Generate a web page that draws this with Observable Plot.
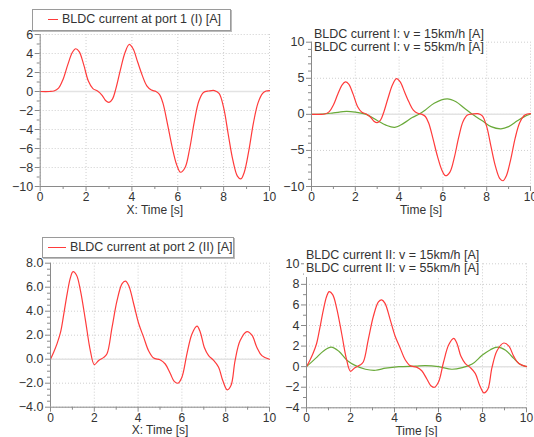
<!DOCTYPE html>
<html>
<head>
<meta charset="utf-8">
<script src="https://cdn.jsdelivr.net/npm/d3@7"></script>
<script src="https://cdn.jsdelivr.net/npm/@observablehq/plot@0.6"></script>
<style>
  html, body { margin: 0; padding: 0; background: white; }
  #wrap { position: relative; width: 534px; height: 437px; overflow: hidden; background: white;
          font-family: "Liberation Sans", Arial, sans-serif; color: #333; }
  #wrap svg { position: absolute; left: 0; top: 0; }
  .legbox { position: absolute; border: 1px solid #9a9a9a; box-shadow: 1px 1px 0 #bbb; background: white;
            font-size: 12.5px; line-height: 18px; white-space: nowrap; }
  .legbox .sw { display: inline-block; vertical-align: middle; height: 0; border-top: 1px solid #ff3b3b; }
  .legtxt { position: absolute; background: white; font-size: 12.5px; line-height: 13px; white-space: nowrap; color: #333; }
</style>
</head>
<body>
<div id="wrap"></div>
<script>
// ---- data ----
const timeI15 = [0,0.4,0.6,0.8,1.0,1.2,1.4,1.55,1.7,1.9,2.1,2.3,2.5,2.7,2.85,3.0,3.15,3.3,3.5,3.7,3.88,4.05,4.25,4.45,4.65,4.85,5.05,5.2,5.35,5.55,5.75,5.95,6.12,6.32,6.52,6.72,6.92,7.12,7.35,7.6,7.8,8.0,8.2,8.4,8.6,8.75,8.9,9.1,9.3,9.5,9.7,9.85,10];
const currentI15 = [0,0,0.05,0.35,1.3,2.8,4.1,4.5,4.2,2.8,1.1,0.3,0.05,-0.4,-0.95,-1.15,-0.8,0.3,2.3,4.1,4.95,4.5,3.1,1.7,0.6,0.15,0.0,-0.3,-1.2,-3.4,-5.8,-7.7,-8.5,-8.0,-6.0,-3.2,-1.0,-0.1,0.05,0.1,-0.2,-1.7,-4.5,-7.2,-8.9,-9.2,-8.5,-6.2,-3.3,-1.2,-0.2,0.05,0.1];
const timeI55 = [0,0.5,1.0,1.6,2.0,2.5,3.0,3.4,3.8,4.2,4.6,4.9,5.2,5.6,6.2,6.6,7.0,7.4,7.8,8.2,8.65,9.0,9.4,9.7,10];
const currentI55 = [0,0.05,0.2,0.4,0.3,0,-0.85,-1.5,-1.8,-1.25,-0.45,0,0.6,1.55,2.15,1.75,0.8,-0.1,-0.9,-1.7,-2.0,-1.7,-0.9,-0.35,0.05];
const timeII15 = [0,0.15,0.3,0.46,0.61,0.76,0.91,1.03,1.19,1.37,1.6,1.82,2.0,2.2,2.43,2.58,2.81,3.04,3.27,3.42,3.57,3.8,4.03,4.26,4.48,4.71,5.0,5.24,5.47,5.65,5.82,6.0,6.23,6.46,6.69,6.84,7.02,7.22,7.45,7.67,7.87,8.07,8.24,8.43,8.66,8.97,9.2,9.42,9.65,10];
const currentII15 = [0,0.6,1.3,2.25,3.8,5.45,6.8,7.3,7.0,5.7,3.2,0.7,-0.45,-0.1,0.15,0.45,2.65,4.9,6.3,6.5,6.15,4.6,2.95,1.8,0.7,0.1,-0.05,-0.4,-1.2,-1.85,-2.0,-1.5,0.45,2.1,2.75,2.25,1.0,0.3,-0.1,-0.65,-1.8,-2.55,-2.2,-0.1,1.55,2.3,2.0,1.0,0.3,0];
const timeII55 = [0,0.41,0.79,1.12,1.47,1.85,2.23,2.68,3.14,3.6,4.2,4.95,5.4,6.0,6.6,7.08,7.53,7.98,8.36,8.67,9.05,9.42,9.73,10];
const currentII55 = [0,0.8,1.55,1.9,1.5,0.6,0.1,-0.25,-0.35,-0.15,0,0.05,0.1,0,-0.25,-0.1,0.25,1.1,1.65,1.9,1.6,0.8,0.2,0];

const xMajor = [0,2,4,6,8,10];
const xMinor = [1,3,5,7,9];
const legendTexts = {
  p1: "BLDC current at port 1 (I) [A]",
  p2: ["BLDC current I: v = 15km/h [A]", "BLDC current I: v = 55km/h [A]"],
  p3: "BLDC current at port 2 (II) [A]",
  p4: ["BLDC current II: v = 15km/h [A]", "BLDC current II: v = 55km/h [A]"]
};

const RED = "#ff3b3b", GREEN = "#6aaa3a";
const toRows = (ts, vs) => ts.map((t, i) => ({t, v: vs[i]}));

function panel({ml, mr, mt, mb, yDomain, yMajor, yMinor, yFormat, series, xLabel}) {
  const marks = [
    Plot.gridX(xMajor, {stroke: "#cfcfcf", strokeOpacity: 1, strokeDasharray: "1,2"}),
    Plot.gridY(yMajor, {stroke: "#cfcfcf", strokeOpacity: 1, strokeDasharray: "1,2"}),
    Plot.ruleY([0], {stroke: "#e3e3e3", strokeWidth: 1.5}),
    ...series.map(s => Plot.line(toRows(s.t, s.v), {x: "t", y: "v", stroke: s.color, strokeWidth: 1.2, curve: "catmull-rom"})),
    Plot.ruleX([0], {stroke: "#8a8a8a"}),
    Plot.ruleY([yDomain[0]], {stroke: "#8a8a8a"}),
    Plot.axisX({ticks: xMajor, tickSize: 5, stroke: "#8a8a8a", fill: "#333", fontSize: 12, tickPadding: 1,
                label: xLabel, labelAnchor: "center", labelOffset: 27, labelArrow: false}),
    Plot.axisX({ticks: xMinor, tickSize: 3, stroke: "#8a8a8a", tickFormat: () => "", label: null}),
    Plot.axisY({ticks: yMajor, tickSize: 5, stroke: "#8a8a8a", fill: "#333", fontSize: 12.5, tickPadding: 2,
                tickFormat: yFormat, label: null}),
    Plot.axisY({ticks: yMinor, tickSize: 3, stroke: "#8a8a8a", tickFormat: () => "", label: null})
  ];
  return Plot.plot({
    width: 534, height: 437,
    marginLeft: ml, marginRight: mr, marginTop: mt, marginBottom: mb,
    x: {domain: [0, 10]},
    y: {domain: yDomain},
    style: {background: "transparent", overflow: "visible", fontFamily: "Liberation Sans, Arial, sans-serif", fontSize: "12px", color: "#333"},
    marks
  });
}

const wrap = document.getElementById("wrap");
const range = (a, b, s) => d3.range(a, b + s / 2, s);
const minor = (a, b, s, major) => range(a, b, s).filter(v => !major.some(m => Math.abs(m - v) < 1e-9));

const y1 = range(-10, 6, 2);
wrap.appendChild(panel({ml: 39.7, mr: 265, mt: 34, mb: 251, yDomain: [-10, 6], yMajor: y1, yMinor: minor(-10, 6, 1, y1),
  series: [{t: timeI15, v: currentI15, color: RED}], xLabel: "X: Time [s]"}));

const y2 = range(-10, 10, 5);
wrap.appendChild(panel({ml: 311, mr: 4, mt: 41.7, mb: 251, yDomain: [-10, 10], yMajor: y2, yMinor: minor(-10, 10, 1, y2),
  series: [{t: timeI55, v: currentI55, color: GREEN}, {t: timeI15, v: currentI15, color: RED}], xLabel: "Time [s]"}));

const y3 = range(-4, 8, 2);
wrap.appendChild(panel({ml: 50, mr: 265, mt: 262.7, mb: 30.3, yDomain: [-4, 8], yMajor: y3, yMinor: minor(-4, 8, 0.5, y3),
  yFormat: d3.format(".1f"),
  series: [{t: timeII15, v: currentII15, color: RED}], xLabel: "X: Time [s]"}));

const y4 = range(-4, 10, 2);
wrap.appendChild(panel({ml: 306, mr: 8, mt: 263.3, mb: 29.7, yDomain: [-4, 10], yMajor: y4, yMinor: minor(-4, 10, 1, y4),
  series: [{t: timeII55, v: currentII55, color: GREEN}, {t: timeII15, v: currentII15, color: RED}], xLabel: "Time [s]"}));

// legends
function boxLegend(left, top, w, h, swLeft, swW, text) {
  const d = document.createElement("div");
  d.className = "legbox";
  Object.assign(d.style, {left: left + "px", top: top + "px", width: w + "px", height: h + "px"});
  const sw = document.createElement("span");
  sw.className = "sw";
  Object.assign(sw.style, {width: swW + "px", marginLeft: swLeft + "px", marginRight: "4px"});
  d.appendChild(sw);
  d.appendChild(document.createTextNode(text));
  wrap.appendChild(d);
}
function textLegend(left, top, lines) {
  const d = document.createElement("div");
  d.className = "legtxt";
  Object.assign(d.style, {left: left + "px", top: top + "px", padding: "0 2px 2px 2px"});
  d.innerHTML = lines.map(l => `<div>${l}</div>`).join("");
  wrap.appendChild(d);
}
boxLegend(32, 9, 197, 20, 15, 10, legendTexts.p1);
boxLegend(42, 237, 190, 19, 5, 18, legendTexts.p3);
textLegend(312, 28, legendTexts.p2);
textLegend(304, 249, legendTexts.p4);
</script>
</body>
</html>
